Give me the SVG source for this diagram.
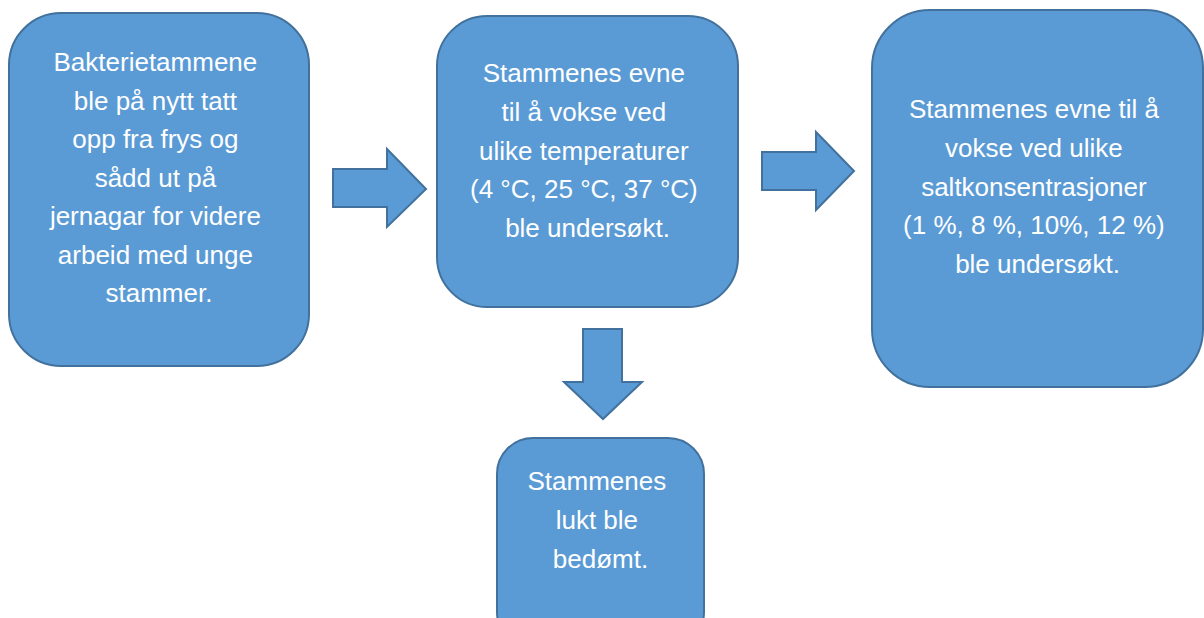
<svg xmlns="http://www.w3.org/2000/svg" width="1204" height="618" viewBox="0 0 1204 618">
  <style>
    .box { fill: #5B9BD5; stroke: #41719C; stroke-width: 2; }
    .arrow { fill: #5B9BD5; stroke: #41719C; stroke-width: 2; stroke-linejoin: miter; }
    .label { font-family: "Liberation Sans", Arial, sans-serif; font-size: 26px; fill: #FFFFFF; text-anchor: middle; }
  </style>
  <rect width="1204" height="618" fill="#FFFFFF"/>

  <!-- block arrows between steps -->
  <g id="connectors">
    <polygon class="arrow" points="333,169 387,169 387,149 426,189 387,227 387,207 333,207"/>
    <polygon class="arrow" points="762,152 816,152 816,132 854,171 816,210 816,190 762,190"/>
    <polygon class="arrow" points="583,329 622,329 622,382 642,382 603,419 564,382 583,382"/>
  </g>

  <g id="step-thaw">
    <rect class="box" x="9" y="13" width="300" height="353" rx="52" ry="52"/>
    <text class="label">
      <tspan x="159" y="71">Bakterietammene</tspan>
      <tspan x="159" y="110">ble på nytt tatt</tspan>
      <tspan x="159" y="148">opp fra frys og</tspan>
      <tspan x="159" y="187">sådd ut på</tspan>
      <tspan x="159" y="225">jernagar for videre</tspan>
      <tspan x="159" y="264">arbeid med unge</tspan>
      <tspan x="159" y="302">stammer.</tspan>
    </text>
  </g>

  <g id="step-temperature">
    <rect class="box" x="437" y="16" width="301" height="291" rx="50" ry="50"/>
    <text class="label">
      <tspan x="587.5" y="82">Stammenes evne</tspan>
      <tspan x="587.5" y="121">til å vokse ved</tspan>
      <tspan x="587.5" y="160">ulike temperaturer</tspan>
      <tspan x="587.5" y="198">(4 °C, 25 °C, 37 °C)</tspan>
      <tspan x="587.5" y="237">ble undersøkt.</tspan>
    </text>
  </g>

  <g id="step-salt">
    <rect class="box" x="872" y="10" width="331" height="377" rx="58" ry="58"/>
    <text class="label">
      <tspan x="1037.5" y="118">Stammenes evne til å</tspan>
      <tspan x="1037.5" y="157">vokse ved ulike</tspan>
      <tspan x="1037.5" y="196">saltkonsentrasjoner</tspan>
      <tspan x="1037.5" y="234">(1 %, 8 %, 10%, 12 %)</tspan>
      <tspan x="1037.5" y="273">ble undersøkt.</tspan>
    </text>
  </g>

  <g id="step-smell">
    <rect class="box" x="497" y="438" width="207" height="210" rx="36" ry="36"/>
    <text class="label">
      <tspan x="600.5" y="490">Stammenes</tspan>
      <tspan x="600.5" y="529">lukt ble</tspan>
      <tspan x="600.5" y="568">bedømt.</tspan>
    </text>
  </g>
</svg>
